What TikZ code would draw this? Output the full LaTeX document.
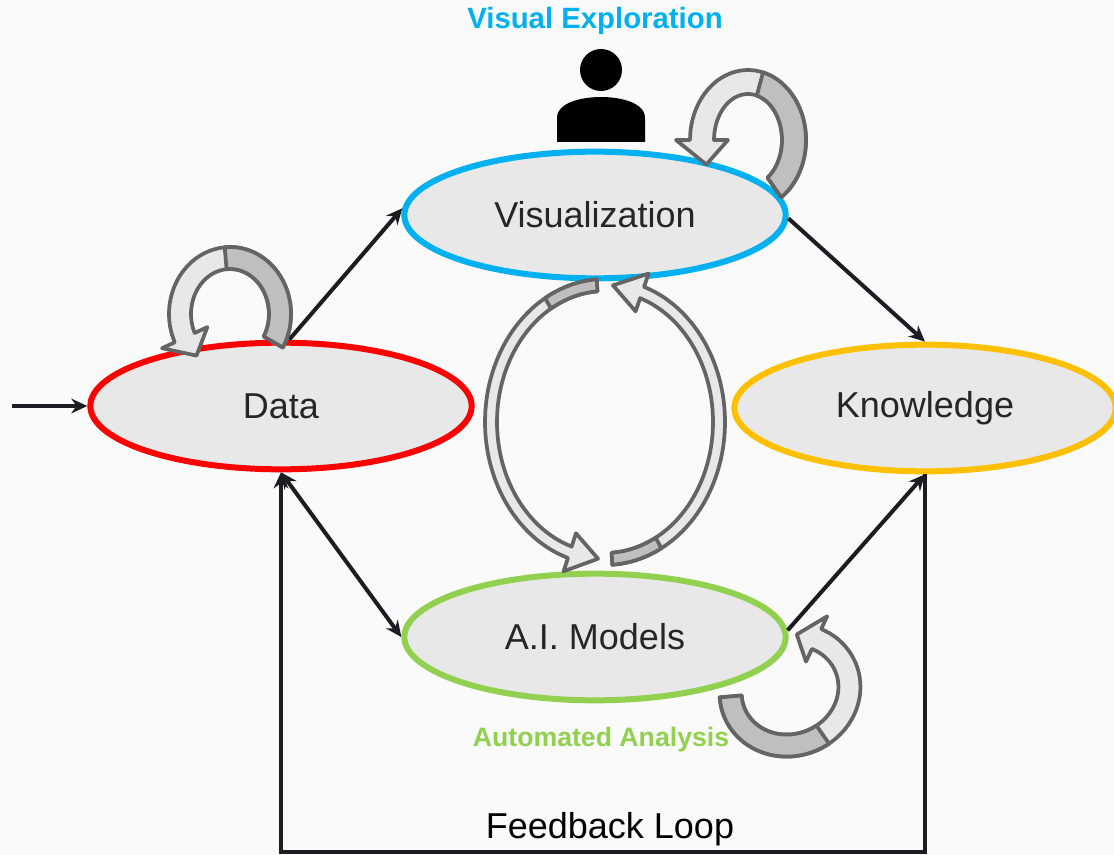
\documentclass[tikz,border=0pt]{standalone}
\usepackage{fontspec}
\setmainfont{Liberation Sans}
\usetikzlibrary{arrows.meta,shapes.geometric,shadows}

\definecolor{visblue}{HTML}{00B0F0}
\definecolor{datared}{HTML}{FF0000}
\definecolor{knowgold}{HTML}{FFC000}
\definecolor{aigreen}{HTML}{92D050}
\definecolor{nodefill}{HTML}{E8E8E8}
\definecolor{bandfront}{HTML}{E8E8E8}
\definecolor{bandback}{HTML}{BFBFBF}
\definecolor{bandedge}{HTML}{646464}
\definecolor{bgcol}{HTML}{FAFAFA}
\definecolor{inkcol}{HTML}{1C1C22}

\tikzset{
  proc/.style={ellipse, line width=4.5pt, fill=nodefill, minimum width=286pt, minimum height=95pt,
    text=black!85, font=\fontsize{27}{32}\selectfont,
    drop shadow={shadow xshift=1.5pt, shadow yshift=-2pt, opacity=0.25}},
  tag/.style={font=\bfseries\fontsize{22}{26}\selectfont},
  band/.style={draw=bandedge, line width=2.8pt, line join=round},
}

\newcommand{\loopdart}[9]{%
  \filldraw[band, fill=bandfront]
    plot[smooth, samples=30, domain=#5:#6] ({#1+(#3+#8)*cos(\x)}, {#2+(#4+#8)*sin(\x)})
    -- ({#1+(#3+#9)*cos(#6)}, {#2+(#4+#9)*sin(#6)})
    -- ({#1+#3*cos(#7)}, {#2+#4*sin(#7)})
    -- ({#1+(#3-#9)*cos(#6)}, {#2+(#4-#9)*sin(#6)})
    -- plot[smooth, samples=30, domain=#6:#5] ({#1+(#3-#8)*cos(\x)}, {#2+(#4-#8)*sin(\x)})
    -- cycle;}
\newcommand{\loopback}[7]{%
  \filldraw[band, fill=bandback]
    plot[smooth, samples=20, domain=#5:#6] ({#1+(#3+#7)*cos(\x)}, {#2+(#4+#7)*sin(\x)})
    -- plot[smooth, samples=20, domain=#6:#5] ({#1+(#3-#7)*cos(\x)}, {#2+(#4-#7)*sin(\x)})
    -- cycle;}

\begin{document}
\begin{tikzpicture}[x=0.75pt, y=-0.75pt, >={Stealth[length=12pt,width=11pt]}, line width=3pt]
\fill[bgcol] (0,0) rectangle (1114,855);
\useasboundingbox (0,0) rectangle (1114,855);

\node[proc, draw=datared]  (data) at (281, 406) {Data};
\node[proc, draw=visblue]  (vis)  at (595, 215) {Visualization};
\node[proc, draw=knowgold] (know) at (925, 408) {Knowledge};
\node[proc, draw=aigreen]  (ai)   at (595, 637) {A.I. Models};

\node[tag, text=visblue] (visexp) at (595, 21)  {Visual Exploration};
\node[tag, text=aigreen, font=\bfseries\fontsize{20}{24}\selectfont] (autoan) at (601, 740) {Automated Analysis};
\node[font=\fontsize{27}{32}\selectfont] (fbtext) at (610, 829) {Feedback Loop};

\coordinate (in) at (12, 406);
\coordinate (fbase) at (605, 852);
\path[->, inkcol] (in) edge (data.west);
\path[->, inkcol] (data.83) edge (vis.178);
\path[->, inkcol] (vis.-1) edge (know.north);
\path[<->, inkcol] (data.south) edge (ai.west);
\path[->, inkcol] (ai.2) edge (know.south);
\draw[->, inkcol] (know.south) |- (fbase) -| (data.south);

\fill[black] (601, 70) circle[radius=21];
\fill[black] (557, 142) -- (557, 118) .. controls (557, 102) and (583, 97) .. (601, 97)
  .. controls (619, 97) and (645, 102) .. (645, 118) -- (645, 142) -- cycle;

\loopdart{748}{140}{46}{58}{55}{-180}{-205}{12}{26}
\loopback{748}{140}{46}{58}{55}{-75}{12}
\loopdart{230}{314}{50}{56}{30}{-205}{-228}{11}{25}
\loopback{230}{314}{50}{56}{30}{-95}{11}
\begin{scope}[shift={(790, 690)}, rotate=20]
\loopdart{0}{0}{60}{55}{195}{-45}{-65}{11}{25}
\loopback{0}{0}{60}{55}{195}{75}{11}
\end{scope}
\loopdart{605}{422}{114}{137}{266}{108}{93.5}{6}{20}
\loopback{605}{422}{114}{137}{266}{240}{6}
\loopdart{605}{422}{114}{137}{86.5}{-71}{-86}{6}{20}
\loopback{605}{422}{114}{137}{86.5}{62}{6}
\end{tikzpicture}
\end{document}
